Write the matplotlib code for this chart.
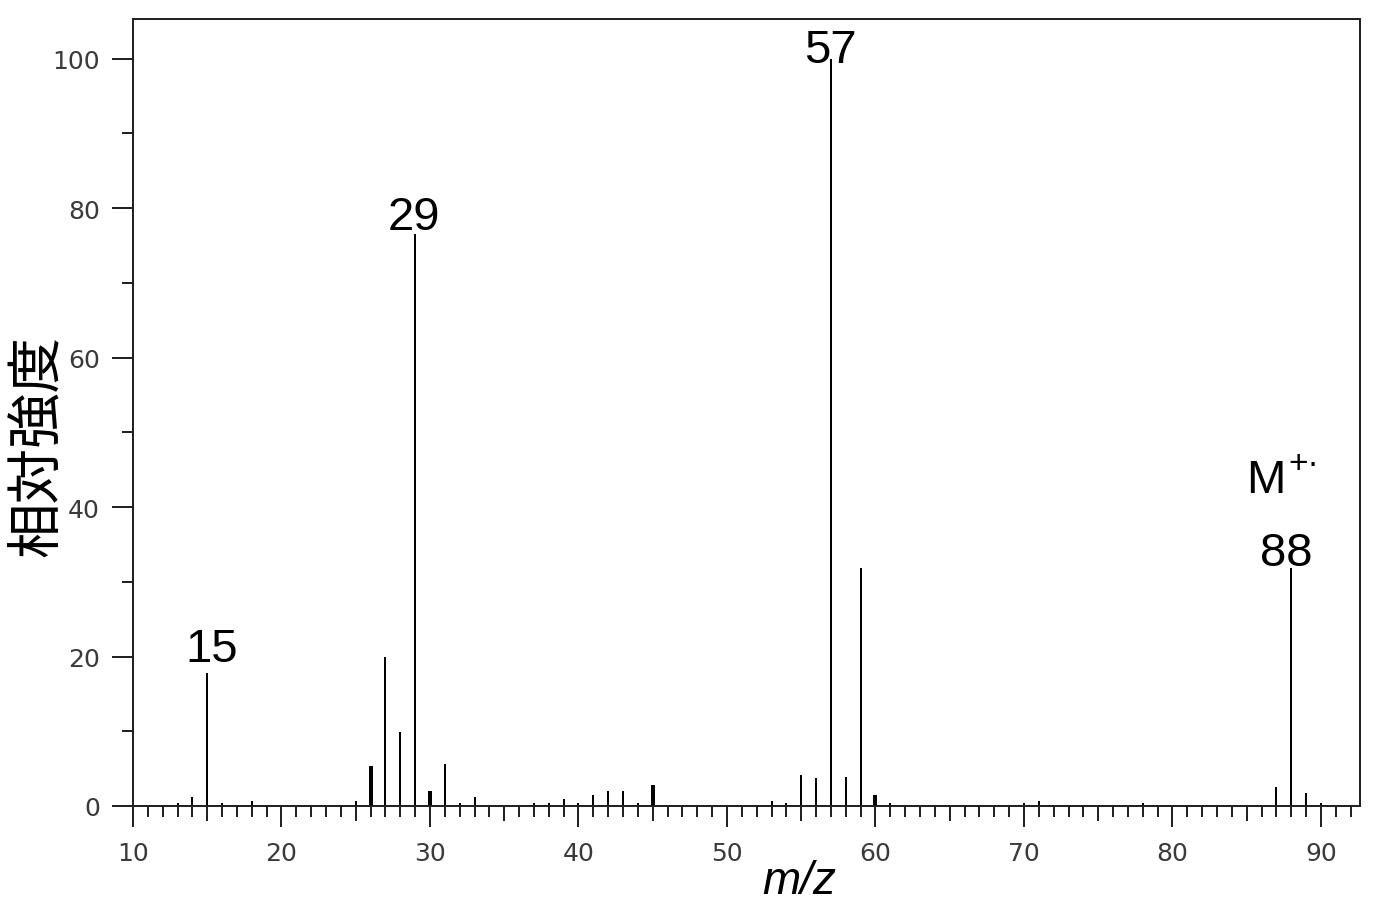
import matplotlib
matplotlib.use('Agg')
import matplotlib.pyplot as plt

# ---- data ----
mz = [13, 14, 15, 16, 18, 25, 26, 27, 28, 29, 30, 31, 32, 33, 37, 38, 39, 40,
      41, 42, 43, 44, 45, 53, 54, 55, 56, 57, 58, 59, 60, 61, 70, 71, 78, 87,
      88, 89, 90]
intensity = [0.4, 1.2, 17.8, 0.4, 0.7, 0.7, 5.3, 20.0, 9.9, 76.5, 2.0, 5.6, 0.4,
             1.2, 0.4, 0.4, 0.9, 0.4, 1.5, 2.0, 2.0, 0.4, 2.8, 0.7, 0.4, 4.2,
             3.7, 100.0, 3.9, 31.8, 1.5, 0.4, 0.4, 0.7, 0.4, 2.5, 31.8, 1.7, 0.4]
labeled_mz = [15, 29, 57, 88]
thick_mz = [26, 30, 45, 60]
x_ticks = [10, 20, 30, 40, 50, 60, 70, 80, 90]
y_ticks = [0, 20, 40, 60, 80, 100]
xlabel_text = 'm/z'
ylabel_text = '相対強度'
ion_text = 'M'
ion_sup = '+·'

# ---- styling / layout ----
PX = 0.72  # points per pixel at dpi 100
label_offsets = {15: (4, 12), 29: (-1, 5), 57: (-1, -3), 88: (-5, 3)}

fig = plt.figure(figsize=(13.82, 9.04), dpi=100)
ax = fig.add_axes([133 / 1382, 97 / 904, (1360 - 133) / 1382, (807 - 20) / 904])

for m, v in zip(mz, intensity):
    lw = 4 * PX if m in thick_mz else 2 * PX
    ax.vlines(m, 0, v, color='black', linewidth=lw)

ax.set_xlim(10, 92.63)
ax.set_ylim(0, 105.3)

for s in ax.spines.values():
    s.set_linewidth(2 * PX)
    s.set_color('#222222')

ax.set_xticks(x_ticks)
ax.set_xticks(range(11, 93), minor=True)
ax.set_yticks(y_ticks)
ax.set_yticks(range(10, 101, 20), minor=True)
ax.tick_params(axis='both', which='major', direction='out', length=21 * PX,
               width=2 * PX, color='#222222', labelsize=18, labelcolor='#3a3a3a')
ax.tick_params(axis='both', which='minor', direction='out', length=11 * PX,
               width=2 * PX, color='#222222')
ax.tick_params(axis='x', which='major', pad=14 * PX)
ax.tick_params(axis='y', which='major', pad=12 * PX)

sec = ax.secondary_xaxis('bottom')
sec.set_xticks(list(range(15, 95, 10)))
sec.set_xticklabels([])
sec.tick_params(direction='out', length=15 * PX, width=2 * PX, color='#222222')
sec.spines['bottom'].set_visible(False)

for m, v in zip(mz, intensity):
    if m in labeled_mz:
        dx, dy = label_offsets[m]
        ax.annotate(str(m), xy=(m, v), xytext=(dx * PX, dy * PX),
                    textcoords='offset points', ha='center', va='baseline',
                    fontsize=34, family='Liberation Sans', color='black')
    if m == 88:
        ax.annotate(ion_text, xy=(m, v), xytext=(-45 * PX, 76 * PX),
                    textcoords='offset points', ha='left', va='baseline',
                    fontsize=34, family='Liberation Sans', color='black')
        ax.annotate(ion_sup, xy=(m, v), xytext=(-3 * PX, 96 * PX),
                    textcoords='offset points', ha='left', va='baseline',
                    fontsize=24, family='Liberation Sans', color='black')

ax.set_xlabel(xlabel_text, fontsize=33, family='Liberation Sans', style='italic')
ax.xaxis.label.set_va('baseline')
ax.xaxis.set_label_coords((799 - 133) / 1227, (807 - 894) / 787)
ax.set_ylabel(ylabel_text, fontsize=40, family='Noto Sans CJK JP')
ax.yaxis.set_label_coords((66 - 133) / 1227, (807 - 446) / 787)

fig.savefig('out.png', dpi=100)
